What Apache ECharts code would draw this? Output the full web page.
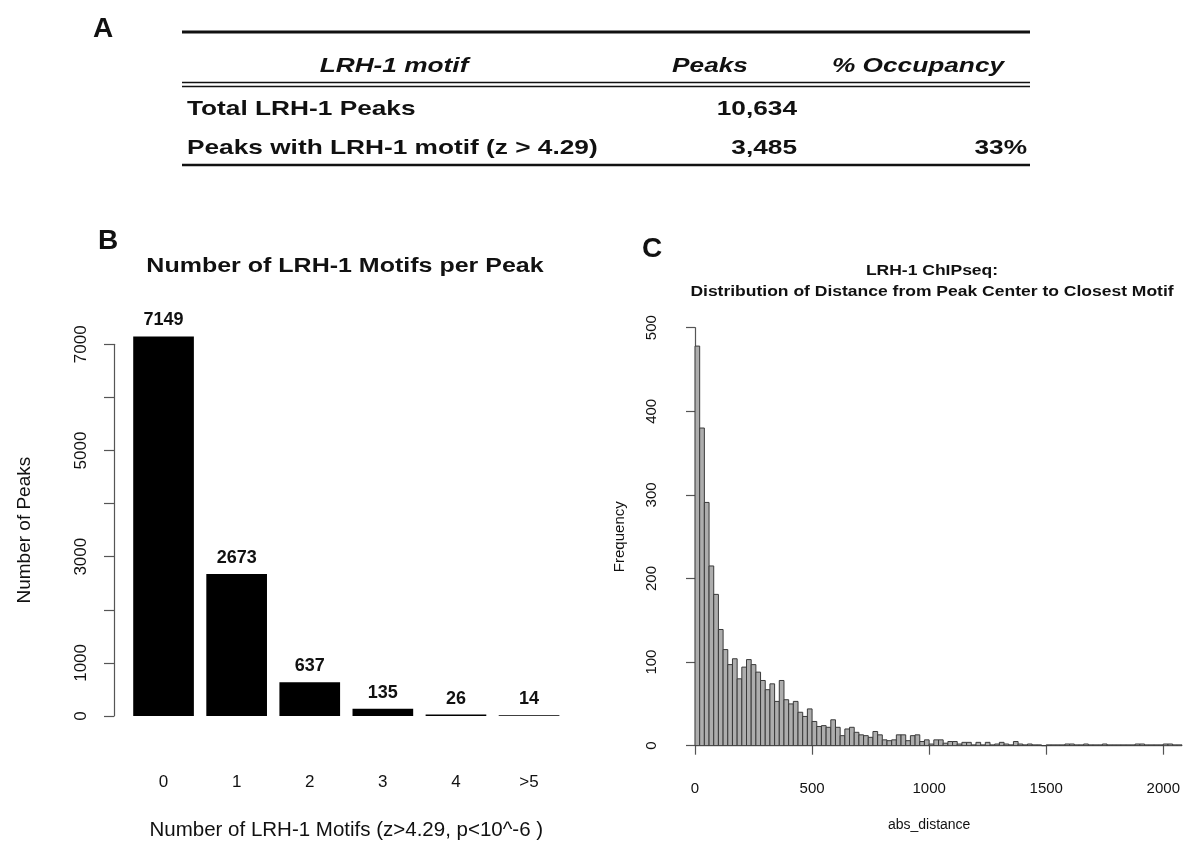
<!DOCTYPE html>
<html>
<head>
<meta charset="utf-8">
<script src="https://cdn.jsdelivr.net/npm/echarts@6/dist/echarts.min.js"></script>
<style>
  html, body { margin: 0; padding: 0; background: #fff; }
  #main { width: 1200px; height: 865px; }
</style>
</head>
<body>
<div id="main"></div>
<script>
// panel A table
const tableHeader = ['LRH-1 motif', 'Peaks', '% Occupancy'];
const tableRows = [
  ['Total LRH-1 Peaks', '10,634', ''],
  ['Peaks with LRH-1 motif (z > 4.29)', '3,485', '33%']
];

// panel B
const motifCats = ['0', '1', '2', '3', '4', '>5'];
const motifPeaks = [7149, 2673, 637, 135, 26, 14];
const peakLabelTicks = [0, 1000, 3000, 5000, 7000];

// panel C: histogram, 20 bp bins starting at 0
const distBinWidth = 20;
const distCounts = [
  478, 380, 291, 215, 181, 139, 115, 97, 104, 80,
  94, 103, 97, 88, 78, 67, 74, 53, 78, 55,
  50, 53, 40, 35, 44, 29, 23, 24, 22, 31,
  22, 12, 20, 22, 16, 13, 12, 10, 17, 13,
  7, 6, 7, 13, 13, 6, 12, 13, 5, 7,
  2, 7, 7, 3, 5, 5, 2, 4, 4, 1,
  4, 1, 4, 1, 2, 4, 2, 1, 5, 2,
  1, 2, 1, 1, 0, 1, 1, 1, 1, 2,
  2, 1, 1, 2, 1, 1, 1, 2, 1, 1,
  1, 1, 1, 1, 2, 2, 1, 1, 1, 1,
  2, 2, 1, 1
];

const FONT = '"Liberation Sans", Arial, Helvetica, sans-serif';
const INK = '#111';
const AXIS = '#555';
const SX = 1.25; // the figure's text is a bit wider than plain Helvetica

function txt(x, y, text, size, opts) {
  opts = opts || {};
  return {
    type: 'text', x: x, y: y, scaleX: opts.scaleX || SX,
    style: {
      text: text, fill: INK,
      font: (opts.style || '') + ' bold ' + size + 'px ' + FONT,
      align: opts.align || 'left', verticalAlign: 'middle',
      textAlign: opts.align || 'left', textVerticalAlign: 'middle'
    }
  };
}
function hline(y, w) {
  return { type: 'line', shape: { x1: 182, y1: y, x2: 1030, y2: y }, style: { stroke: '#111', lineWidth: w } };
}

const graphics = [
  txt(103, 29, 'A', 28, { align: 'center', scaleX: 1 }),
  hline(32, 3),
  txt(394, 66, tableHeader[0], 21, { align: 'center', style: 'italic' }),
  txt(710, 66, tableHeader[1], 21, { align: 'center', style: 'italic' }),
  txt(918, 66, tableHeader[2], 21, { align: 'center', style: 'italic' }),
  hline(82.5, 1.6),
  hline(86.5, 1.6),
  txt(187, 109, tableRows[0][0], 21),
  txt(797, 109, tableRows[0][1], 21, { align: 'right' }),
  txt(1027, 109, tableRows[0][2], 21, { align: 'right' }),
  txt(187, 148, tableRows[1][0], 21),
  txt(797, 148, tableRows[1][1], 21, { align: 'right' }),
  txt(1027, 148, tableRows[1][2], 21, { align: 'right' }),
  hline(165, 2.5),
  txt(108, 241, 'B', 28, { align: 'center', scaleX: 1 }),
  txt(345, 266, 'Number of LRH-1 Motifs per Peak', 20, { align: 'center' }),
  txt(652, 249, 'C', 28, { align: 'center', scaleX: 1 }),
  txt(932, 271, 'LRH-1 ChIPseq:', 14, { align: 'center' }),
  txt(932, 292, 'Distribution of Distance from Peak Center to Closest Motif', 14, { align: 'center' })
];

const histData = distCounts.map(function (c, i) {
  return [i * distBinWidth, (i + 1) * distBinWidth, c];
});

const chart = echarts.init(document.getElementById('main'), null, { renderer: 'canvas' });
chart.setOption({
  animation: false,
  backgroundColor: '#fff',
  textStyle: { fontFamily: FONT, color: INK },
  graphic: graphics,
  grid: [
    { left: 127, top: 344.3, width: 438.6, height: 371.7 },
    { left: 695, top: 327.7, width: 487, height: 418 },
    { left: 695, top: 327.7, width: 468.3, height: 418 }
  ],
  xAxis: [
    {
      gridIndex: 0, type: 'category', data: motifCats,
      axisLine: { show: false }, axisTick: { show: false },
      axisLabel: { margin: 58, fontSize: 17, color: INK, fontFamily: FONT },
      name: 'Number of LRH-1 Motifs (z>4.29, p<10^-6 )',
      nameLocation: 'middle', nameGap: 104,
      nameTextStyle: { fontSize: 20.5, color: INK, fontFamily: FONT }
    },
    { gridIndex: 1, type: 'value', min: 0, max: 2080, show: false },
    {
      gridIndex: 2, type: 'value', min: 0, max: 2000, interval: 500, offset: 16,
      axisLine: { lineStyle: { color: AXIS, width: 1.2 } },
      axisTick: { length: 9, lineStyle: { color: AXIS, width: 1.2 } },
      axisLabel: {
        margin: 20, fontSize: 15, color: INK, fontFamily: FONT,
        formatter: function (v) { return String(v); }
      },
      splitLine: { show: false },
      name: 'abs_distance', nameLocation: 'middle', nameGap: 56,
      nameTextStyle: { fontSize: 14, color: INK, fontFamily: FONT }
    }
  ],
  yAxis: [
    {
      gridIndex: 0, type: 'value', min: 0, max: 7000, interval: 1000, offset: 13,
      axisLine: { show: true, lineStyle: { color: AXIS, width: 1.2 } },
      axisTick: { show: true, length: 10, lineStyle: { color: AXIS, width: 1.2 } },
      axisLabel: {
        rotate: 90, margin: 24, fontSize: 17, color: INK, fontFamily: FONT,
        formatter: function (v) { return peakLabelTicks.indexOf(v) >= 0 ? String(v) : ''; }
      },
      splitLine: { show: false },
      name: 'Number of Peaks', nameLocation: 'middle', nameGap: 80, nameRotate: 90,
      nameTextStyle: { fontSize: 19, color: INK, fontFamily: FONT }
    },
    {
      gridIndex: 1, type: 'value', min: 0, max: 500, interval: 100, offset: 18,
      axisLine: { show: true, lineStyle: { color: AXIS, width: 1.2 } },
      axisTick: { show: true, length: 9, lineStyle: { color: AXIS, width: 1.2 } },
      axisLabel: { rotate: 90, margin: 18, fontSize: 15, color: INK, fontFamily: FONT },
      splitLine: { show: false },
      name: 'Frequency', nameLocation: 'middle', nameGap: 50, nameRotate: 90,
      nameTextStyle: { fontSize: 15, color: INK, fontFamily: FONT }
    },
    { gridIndex: 2, type: 'value', min: 0, max: 500, show: false }
  ],
  series: [
    {
      type: 'bar', xAxisIndex: 0, yAxisIndex: 0,
      data: motifPeaks, barWidth: '83%', clip: false,
      itemStyle: { color: '#000' },
      label: {
        show: true, position: 'top', distance: 7,
        fontSize: 18, fontWeight: 'bold', color: INK, fontFamily: FONT
      }
    },
    {
      type: 'custom', xAxisIndex: 1, yAxisIndex: 1,
      data: histData,
      renderItem: function (params, api) {
        const top = api.coord([api.value(0), api.value(2)]);
        const base = api.coord([api.value(1), 0]);
        return {
          type: 'rect',
          shape: { x: top[0], y: top[1], width: base[0] - top[0], height: base[1] - top[1] },
          style: { fill: '#adadad', stroke: '#3a3a3a', lineWidth: 1 }
        };
      }
    }
  ]
});
</script>
</body>
</html>
